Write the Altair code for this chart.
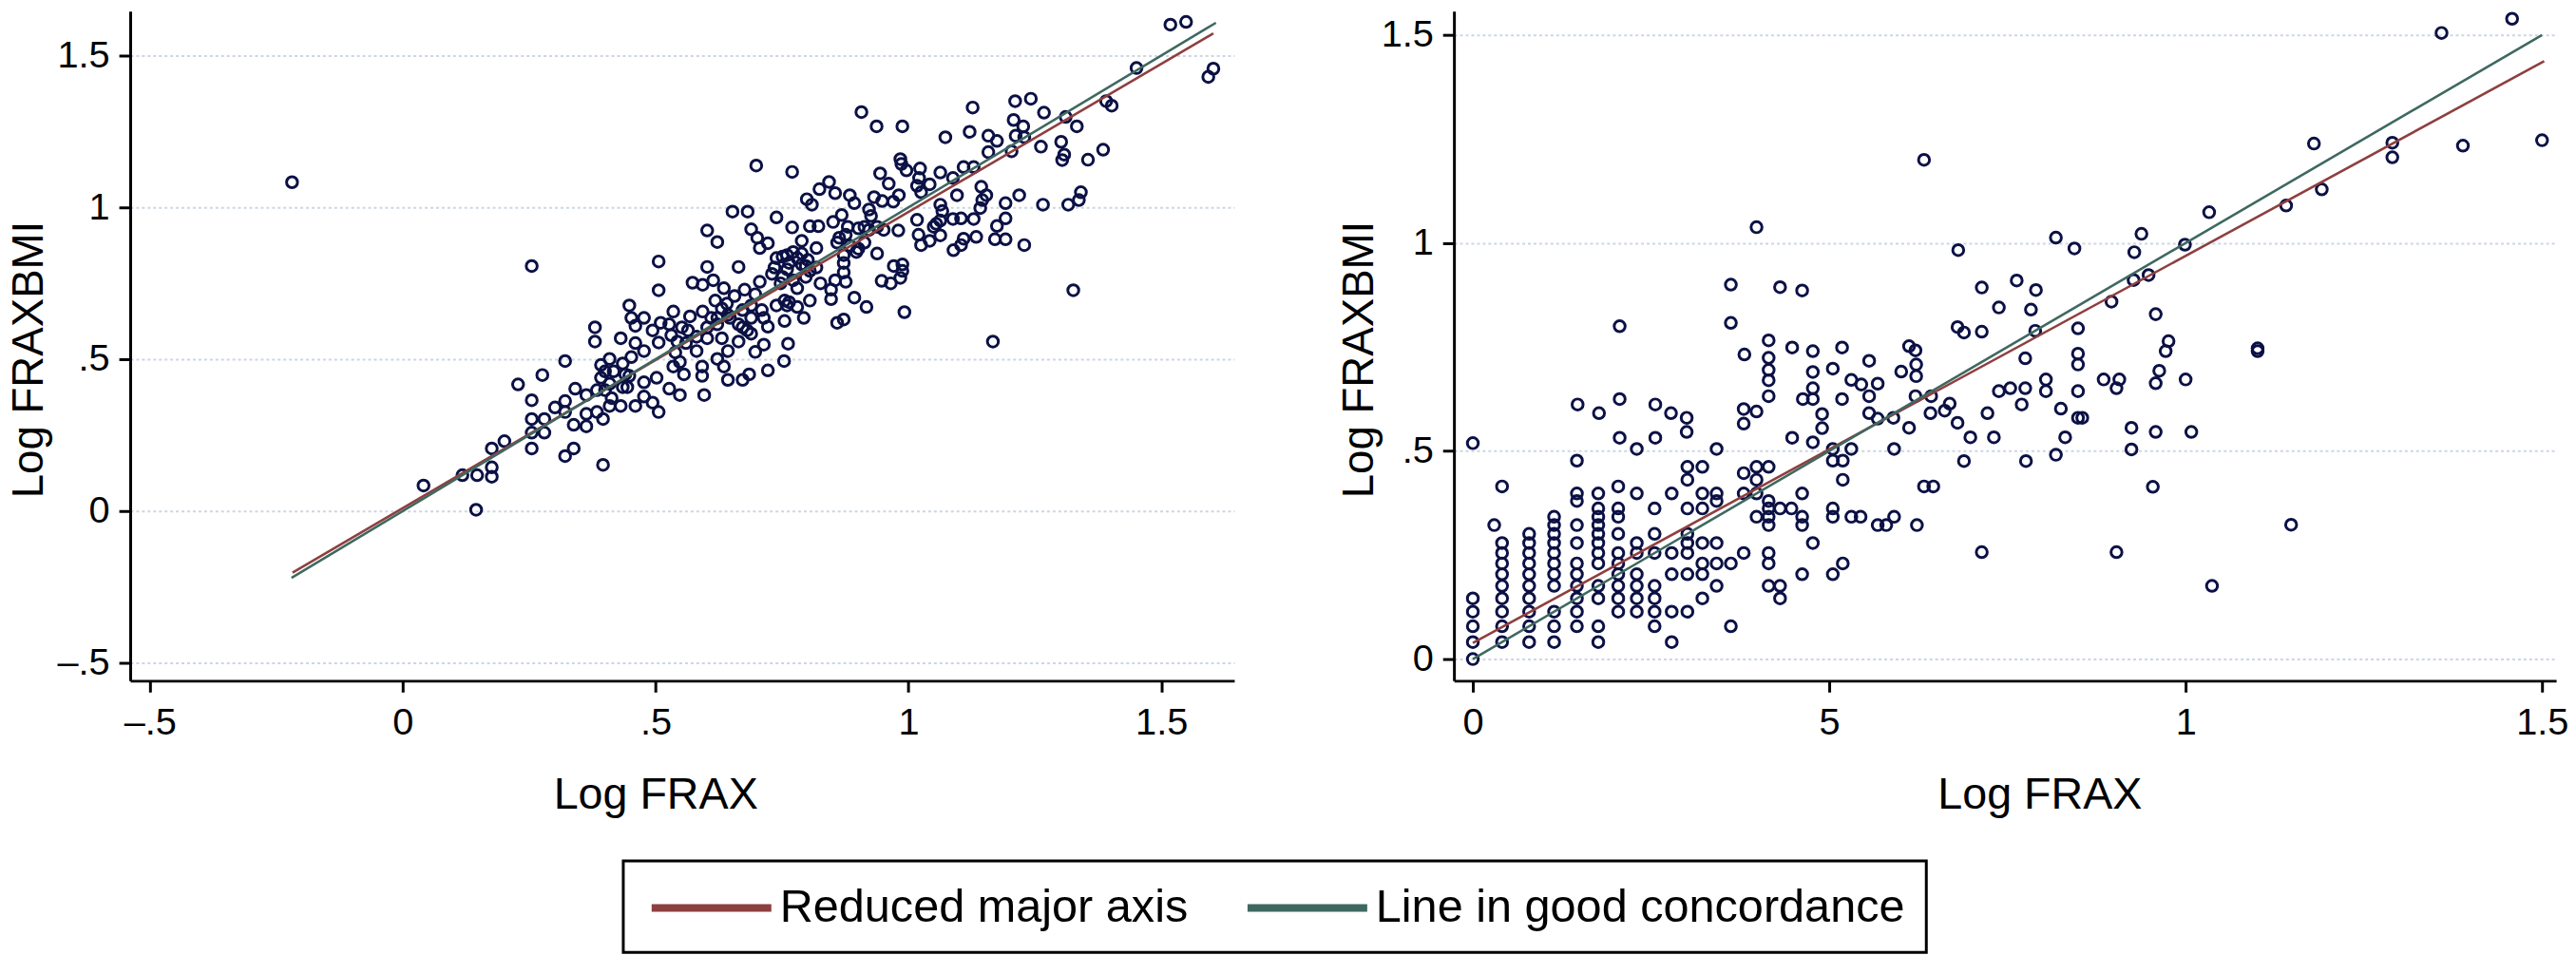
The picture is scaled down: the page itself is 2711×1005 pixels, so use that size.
import altair as alt
import pandas as pd

FONT = "Liberation Sans"
SERIES = ["Reduced major axis", "Line in good concordance"]
LINE_COLORS = ["#8e3f3f", "#3f6860"]

left_points = [
(1.518,1.602),(1.549,1.611),(1.451,1.459),(1.603,1.457),(1.593,1.430),(1.402,1.335),(1.391,1.350),(.907,1.314),(.937,1.267),(.988,1.267),
(1.127,1.329),(1.211,1.350),(1.242,1.358),(1.268,1.312),(1.311,1.298),(1.333,1.267),(1.073,1.231),(1.121,1.249),(1.158,1.236),(1.175,1.219),
(1.208,1.288),(1.227,1.267),(1.212,1.236),(1.229,1.231),(1.262,1.200),(1.302,1.216),(1.308,1.174),(1.304,1.156),(1.355,1.157),(1.385,1.190),
(1.204,1.185),(1.158,1.182),(.699,1.138),(.770,1.117),(.944,1.112),(.961,1.078),(.984,1.159),(.986,1.143),(.996,1.122),(1.023,1.128),
(1.063,1.115),(1.088,1.097),(1.109,1.133),(1.129,1.133),(.843,1.084),(.824,1.060),(.855,1.047),(.799,1.027),(.809,1.009),(.884,1.040),
(.893,1.014),(.932,1.034),(.948,1.021),(.970,1.019),(.922,.993),(1.021,1.097),(1.017,1.071),(1.042,1.076),(.981,1.040),(1.025,1.050),
(1.144,1.068),(1.154,1.040),(1.096,1.040),(1.063,1.009),(1.146,1.024),(1.142,.998),(1.219,1.040),(1.192,1.014),(1.266,1.009),(1.316,1.009),
(1.341,1.050),(1.337,1.024),(1.192,.964),(1.175,.939),(1.129,.962),(1.104,.964),(1.088,.962),(1.063,.957),(1.050,.936),(1.017,.959),
(1.020,.910),(1.025,.876),(1.042,.890),(1.063,.908),(1.134,.903),(1.109,.897),(1.104,.876),(1.089,.859),(1.171,.895),(1.192,.895),
(1.229,.876),(.652,.986),(.682,.986),(.739,.967),(.602,.924),(.622,.886),(.689,.928),(.701,.900),(.722,.882),(.706,.866),
(.770,.934),(.805,.938),(.822,.938),(.851,.952),(.868,.975),(.926,.972),(.951,.926),(.980,.924),(.901,.931),(.876,.910),
(.859,.884),(.789,.890),(.818,.866),(.897,.853),(.938,.848),(.506,.822),(.602,.804),(.664,.804),(.739,.833),(.760,.843),
(.780,.833),(.801,.827),(.735,.802),(.760,.796),(.797,.807),(.818,.802),(.872,.817),(.872,.786),(.855,.760),(.876,.755),
(.988,.812),(.971,.807),(.988,.791),(.984,.768),(.947,.758),(.965,.750),(.826,.750),(.847,.729),(.847,.698),(.893,.703),
(.917,.672),(.805,.693),(.992,.655),(1.326,.727),(1.167,.558),(.506,.727),(.573,.752),(.593,.745),(.614,.760),(.635,.734),
(.618,.693),(.641,.683),(.656,.708),(.676,.729),(.706,.755),(.697,.714),(.780,.734),(.797,.771),(.760,.677),(.739,.677),
(.780,.672),(.793,.636),(.755,.626),(.722,.607),(.859,.620),(.872,.631),(.448,.677),(.452,.636),(.477,.636),(.460,.610),
(.510,.620),(.535,.657),(.568,.641),(.552,.605),(.602,.605),(.622,.615),(.664,.615),(.689,.636),(.710,.662),(.531,.579),
(.506,.555),(.543,.558),(.602,.569),(.631,.569),(.664,.558),(.681,.595),(.714,.548),(.697,.524),(.762,.551),(.754,.494),
(.643,.527),(.622,.501),(.635,.476),(.581,.527),(.539,.522),(.548,.491),(.535,.476),(.556,.450),(.592,.476),(.592,.445),
(.643,.432),(.672,.432),(.685,.450),(.722,.463),(.596,.382),(.548,.382),(.527,.403),(.506,.326),(.494,.357),(.460,.346),
(.431,.569),(.460,.553),(.477,.527),(.452,.507),(.440,.450),(.435,.486),(.477,.424),(.502,.439),(.448,.445),(.435,.408),
(.431,.346),(.477,.377),(.444,.408),(.560,.553),(.581,.574),(.622,.636),(.643,.646),(.672,.662),(.610,.636),(.593,.657),
(.631,.667),(.647,.636),(.689,.677),(.672,.605),(.689,.584),(.714,.636),(.527,.615),(.494,.595),(.564,.595),(.751,.771),
(.772,.760),(.747,.750),(.730,.781),(.789,.812),(.805,.791),(.764,.817),(.751,.838),(.772,.853),(.789,.848),(.755,.693),
(.764,.688),(.872,.843),(.901,.864),(.913,.884),(.884,.874),(.863,.900),(.880,.936),(.913,.936),(.922,.926),(.938,.936),
(1.067,.988),(1.055,.946),(-.219,1.083),(.255,.807),(.380,.605),(.380,.558),(.321,.494),(.276,.448),(.228,.417),(.255,.365),
(.255,.303),(.280,.303),(.255,.258),(.280,.258),(.341,.403),(.363,.382),(.321,.362),(.301,.341),(.321,.326),(.338,.284),
(.363,.320),(.363,.279),(.384,.326),(.396,.303),(.255,.206),(.201,.230),(.176,.206),(.338,.206),(.321,.181),(.396,.152),
(.400,.460),(.392,.439),(.417,.460),(.409,.346),(.400,.398),(.384,.398),(.392,.481),(.409,.501),(.409,.419),(.413,.372),
(.041,.084),(.118,.118),(.147,.118),(.176,.144),(.176,.113),(.145,.004),
]

right_columns = {
0: [0,.041,.079,.114,.146,.519],
.03: [.322],
.041: [.041,.079,.114,.146,.176,.204,.23,.255,.279,.415],
.079: [.041,.079,.114,.146,.176,.204,.23,.255,.279,.301],
.114: [.041,.079,.114,.176,.204,.23,.255,.279,.301,.322,.342],
.146: [.079,.114,.146,.176,.204,.23,.279,.322,.38,.398,.477],
.176: [.041,.079,.146,.176,.23,.255,.279,.301,.322,.342,.362,.398],
.204: [.114,.146,.176,.204,.23,.255,.301,.342,.362,.415],
.23: [.114,.146,.176,.204,.255,.279,.398,.505],
.255: [.079,.114,.146,.176,.255,.301,.362],
.279: [.041,.114,.204,.255,.398],
.301: [.114,.204,.255,.279,.301,.362,.431,.462],
.322: [.146,.204,.23,.279,.362,.398,.462],
.342: [.176,.23,.279,.38,.398,.505],
.362: [.079,.23],
.38: [.255,.398,.447],
.398: [.342,.398,.431,.462],
.415: [.176,.23,.255,.322,.342,.362,.38,.462],
.431: [.146,.176,.362],
.447: [.362],
.462: [.204,.322,.342,.398],
.477: [.279],
.505: [.204,.342,.362,.477,.505],
.519: [.23,.431,.477],
.531: [.342,.505],
.544: [.342],
.568: [.322],
.58: [.322],
.591: [.342,.505],
.623: [.322],
.633: [.415],
.646: [.415],
}

right_extra_points = [
(.398,1.038),(.362,.900),(.431,.894),(.462,.886),(.206,.800),(.362,.808),(.415,.766),(.448,.749),(.477,.740),(.518,.749),
(.381,.732),(.415,.724),(.556,.717),(.415,.695),(.477,.690),(.505,.698),(.415,.670),(.531,.671),(.545,.660),(.568,.662),
(.477,.651),(.415,.632),(.463,.625),(.477,.625),(.518,.625),(.556,.632),(.147,.612),(.206,.625),(.256,.612),(.177,.591),
(.278,.591),(.300,.580),(.380,.601),(.398,.595),(.490,.589),(.556,.591),(.568,.578),(.380,.566),(.490,.555),(.206,.532),
(.300,.546),(.256,.532),(.448,.532),(.477,.521),(.590,.580),
(.633,1.200),(.681,.983),(.818,1.013),(.844,.987),(.938,1.022),(.928,.978),(1.033,1.074),(.999,.996),(1.180,1.239),(1.290,1.241),
(1.290,1.206),(1.389,1.234),(1.500,1.247),(1.359,1.505),(1.458,1.539),(1.191,1.129),(1.141,1.090),(.927,.911),(.948,.923),(.896,.859),
(.714,.893),(.763,.910),(.790,.887),(.738,.845),(.783,.840),(.958,.829),(.680,.798),(.689,.785),(.714,.787),(.789,.789),
(.849,.795),(.612,.752),(.621,.742),(.622,.708),(.601,.691),(.622,.680),(.775,.723),(.849,.734),(.849,.708),(.976,.764),
(.972,.740),(1.101,.747),(1.101,.740),(.963,.693),(.958,.663),(1.000,.672),(.885,.672),(.907,.672),(.903,.651),(.804,.672),
(.804,.644),(.849,.644),(.775,.651),(.754,.651),(.738,.644),(.621,.632),(.643,.632),(.669,.614),(.662,.597),(.642,.591),
(.770,.612),(.825,.602),(.722,.591),(.680,.568),(.849,.580),(.855,.580),(.612,.556),(.924,.556),(.958,.546),(1.008,.546),
(.698,.533),(.731,.533),(.831,.533),(.924,.504),(.818,.491),(.689,.476),(.776,.476),
(.954,.414),(1.148,.323),(.903,.257),(1.037,.176),(.714,.257),
]

left_rma_x = [-.218, 1.603]
left_rma_y = [-.203, 1.573]
left_conc_x = [-.22, 1.608]
left_conc_y = [-.22, 1.608]
right_rma_x = [0, 1.503]
right_rma_y = [.039, 1.437]
right_conc_x = [0, 1.5]
right_conc_y = [0, 1.5]

left_xticks = [-.5, 0, .5, 1, 1.5]
left_xlabels = ["\u2013.5", "0", ".5", "1", "1.5"]
left_yticks = [-.5, 0, .5, 1, 1.5]
left_ylabels = ["\u2013.5", "0", ".5", "1", "1.5"]
right_xticks = [0, .5, 1, 1.5]
right_xlabels = ["0", "5", "1", "1.5"]
right_yticks = [0, .5, 1, 1.5]
right_ylabels = ["0", ".5", "1", "1.5"]

right_points = [(x, y) for x, ys in right_columns.items() for y in ys] + right_extra_points


def label_expr(ticks, labels):
    return "".join(f"datum.value=={t}?'{l}':" for t, l in zip(ticks, labels)) + "''"


def axis(ticks, labels, title, grid, title_x, title_y):
    return alt.Axis(
        values=ticks, labelExpr=label_expr(ticks, labels), title=title, grid=grid,
        gridColor="#ccd6e4", gridDash=[3, 3], gridWidth=2,
        domainColor="black", domainWidth=3, tickColor="black", tickWidth=3, tickSize=12,
        labelColor="black", labelFont=FONT, labelFontSize=40, labelPadding=10 if grid else 13,
        labelOverlap=False, labelFlush=False, labelBound=False,
        titleColor="black", titleFont=FONT, titleFontSize=46 if grid else 47, titleFontWeight="normal",
        titleX=title_x, titleY=title_y, titleBaseline="alphabetic", titleAlign="center",
    )


def panel(points, lines, xdom, ydom, xt, xl, yt, yl, w, xtitle_x, ytitle_x, legend):
    xs = alt.Scale(domain=xdom, nice=False, zero=False)
    ys = alt.Scale(domain=ydom, nice=False, zero=False)
    h = 710
    xax = axis(xt, xl, "Log FRAX", False, xtitle_x, 135)
    yax = axis(yt, yl, "Log FRAXBMI", True, ytitle_x, 369)
    pts = alt.Chart(pd.DataFrame(points, columns=["x", "y"])).mark_point(
        shape="circle", filled=False, color="#0b1145", size=135, strokeWidth=3, opacity=1, clip=True
    ).encode(
        x=alt.X("x:Q", scale=xs, axis=xax),
        y=alt.Y("y:Q", scale=ys, axis=yax),
    )
    rows = []
    for name, lx, ly in lines:
        rows += [{"series": name, "x": a, "y": b} for a, b in zip(lx, ly)]
    lin = alt.Chart(pd.DataFrame(rows)).mark_line(strokeWidth=2.6).encode(
        x=alt.X("x:Q", scale=xs, axis=xax),
        y=alt.Y("y:Q", scale=ys, axis=yax),
        color=alt.Color("series:N", scale=alt.Scale(domain=SERIES, range=LINE_COLORS), legend=legend),
        detail="series:N",
    )
    return (pts + lin).properties(width=w, height=h)


leg = alt.Legend(
    orient="none", legendX=523, legendY=901, direction="horizontal", columns=2, title=None,
    symbolType="M-0.83,0H4.46", symbolSize=2304, symbolStrokeWidth=8,
    labelFont=FONT, labelFontSize=49, labelColor="black", labelLimit=800, labelOffset=88,
    columnPadding=46, padding=22, strokeColor="black", fillColor="white",
)

left = panel(left_points,
             [(SERIES[0], left_rma_x, left_rma_y), (SERIES[1], left_conc_x, left_conc_y)],
             [-.5391, 1.6443], [-.559, 1.646],
             left_xticks, left_xlabels, left_yticks, left_ylabels, 1171, 557, -93, leg)
right = panel(right_points,
              [(SERIES[0], right_rma_x, right_rma_y), (SERIES[1], right_conc_x, right_conc_y)],
              [-.0265, 1.5198], [-.052, 1.557],
              right_xticks, right_xlabels, right_yticks, right_ylabels, 1169, 621, -86, None)

chart = alt.hconcat(left, right, spacing=233, bounds="flush").resolve_scale(
    color="independent"
).properties(
    padding=0, background="white"
).configure_view(strokeWidth=0).configure_legend(strokeWidth=3)

chart.save("out.html", embed_options={"renderer": "svg", "actions": False})
